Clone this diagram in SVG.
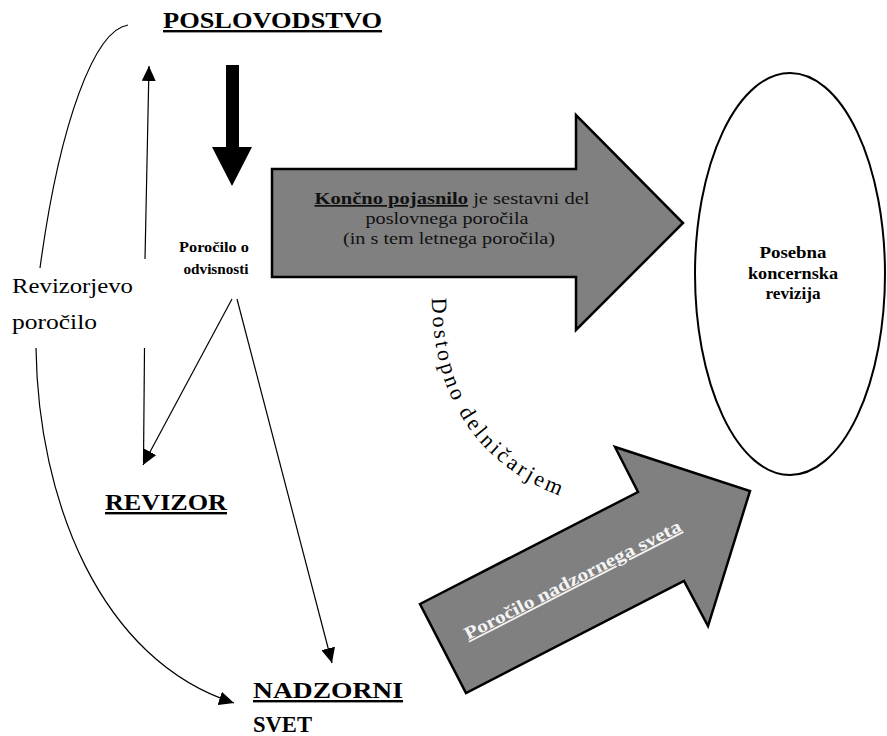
<svg xmlns="http://www.w3.org/2000/svg" width="887" height="736" viewBox="0 0 887 736">
<defs>
<marker id="ah" viewBox="0 0 10 10" refX="10" refY="5" markerWidth="15" markerHeight="14" markerUnits="userSpaceOnUse" orient="auto" preserveAspectRatio="none">
<path d="M0,0 L10,5 L0,10 z" fill="#000"/>
</marker>
<path id="dpath" d="M432,298 C432,400 480,470 572,500"/>
</defs>

<g id="poslovodstvo">
<text font-family="Liberation Serif" style="font-family:Liberation Serif" font-size="24" font-weight="bold" text-decoration="underline" x="163" y="28" textLength="219" lengthAdjust="spacingAndGlyphs">POSLOVODSTVO</text>
</g>

<g id="down-arrow">
<polygon points="226,65 239,65 239,147 252,147 232,186 212,147 226,147" fill="#000"/>
</g>

<g id="porocilo-odvisnosti">
<text font-family="Liberation Serif" style="font-family:Liberation Serif" font-size="14" font-weight="bold" x="214" y="252" text-anchor="middle" textLength="70" lengthAdjust="spacingAndGlyphs">Poročilo o</text>
<text font-family="Liberation Serif" style="font-family:Liberation Serif" font-size="14" font-weight="bold" x="216" y="274" text-anchor="middle" textLength="65" lengthAdjust="spacingAndGlyphs">odvisnosti</text>
</g>

<g id="koncno-arrow">
<polygon points="272,169 576,169 576,115 683,223 576,330 576,277 272,277" fill="#808080" stroke="#000" stroke-width="2.5"/>
<text font-family="Liberation Serif" style="font-family:Liberation Serif" x="452" y="204" text-anchor="middle" font-size="17" fill="#111" textLength="275" lengthAdjust="spacingAndGlyphs"><tspan font-weight="bold" text-decoration="underline">Končno pojasnilo</tspan> je sestavni del</text>
<text font-family="Liberation Serif" style="font-family:Liberation Serif" x="447" y="223.5" text-anchor="middle" font-size="17" fill="#111" textLength="163" lengthAdjust="spacingAndGlyphs">poslovnega poročila</text>
<text font-family="Liberation Serif" style="font-family:Liberation Serif" x="449" y="243.5" text-anchor="middle" font-size="17" fill="#111" textLength="212" lengthAdjust="spacingAndGlyphs">(in s tem letnega poročila)</text>
</g>

<g id="posebna-revizija">
<ellipse cx="790" cy="274" rx="95" ry="201" fill="none" stroke="#000" stroke-width="2"/>
<text font-family="Liberation Serif" style="font-family:Liberation Serif" x="793" y="258" text-anchor="middle" font-size="16" font-weight="bold" textLength="67" lengthAdjust="spacingAndGlyphs">Posebna</text>
<text font-family="Liberation Serif" style="font-family:Liberation Serif" x="793" y="279" text-anchor="middle" font-size="16" font-weight="bold" textLength="90" lengthAdjust="spacingAndGlyphs">koncernska</text>
<text font-family="Liberation Serif" style="font-family:Liberation Serif" x="793" y="299" text-anchor="middle" font-size="16" font-weight="bold" textLength="55" lengthAdjust="spacingAndGlyphs">revizija</text>
</g>

<g id="revizorjevo-porocilo">
<text font-family="Liberation Serif" style="font-family:Liberation Serif" x="12" y="293" font-size="22" textLength="121" lengthAdjust="spacingAndGlyphs">Revizorjevo</text>
<text font-family="Liberation Serif" style="font-family:Liberation Serif" x="12" y="329" font-size="22" textLength="85" lengthAdjust="spacingAndGlyphs">poročilo</text>
</g>

<g id="revizor">
<text font-family="Liberation Serif" style="font-family:Liberation Serif" font-size="24" font-weight="bold" text-decoration="underline" x="105" y="510" textLength="122" lengthAdjust="spacingAndGlyphs">REVIZOR</text>
</g>

<g id="nadzorni-svet">
<text font-family="Liberation Serif" style="font-family:Liberation Serif" font-size="24" font-weight="bold" text-decoration="underline" x="253" y="698" textLength="150" lengthAdjust="spacingAndGlyphs">NADZORNI</text>
<text font-family="Liberation Serif" style="font-family:Liberation Serif" font-size="24" font-weight="bold" x="253" y="732" textLength="59" lengthAdjust="spacingAndGlyphs">SVET</text>
</g>

<g id="dostopno">
<text font-family="Liberation Serif" style="font-family:Liberation Serif" font-size="22" letter-spacing="3"><textPath href="#dpath">Dostopno delničarjem</textPath></text>
</g>

<g id="nadzorni-arrow">
<polygon points="420,604 638,492 615,447 750,491 708,626 684,581 466,693" fill="#808080" stroke="#000" stroke-width="2.5"/>
<text font-family="Liberation Serif" style="font-family:Liberation Serif" x="468" y="640" transform="rotate(-27.1 468 640)" font-size="18" font-weight="bold" fill="#f4f4f4" text-decoration="underline" textLength="241" lengthAdjust="spacingAndGlyphs">Poročilo nadzornega sveta</text>
</g>

<g id="connectors" fill="none" stroke="#000" stroke-width="1.2">
<path d="M128,25 C95,30 60,120 40,268"/>
<path d="M36,348 C38,500 100,660 234,703" marker-end="url(#ah)"/>
<path d="M145,259 L149,66" marker-end="url(#ah)"/>
<path d="M143.5,462 L144.5,348"/>
<path d="M232,299 L143,465" marker-end="url(#ah)"/>
<path d="M237,299 L332,663" marker-end="url(#ah)"/>
</g>
</svg>
